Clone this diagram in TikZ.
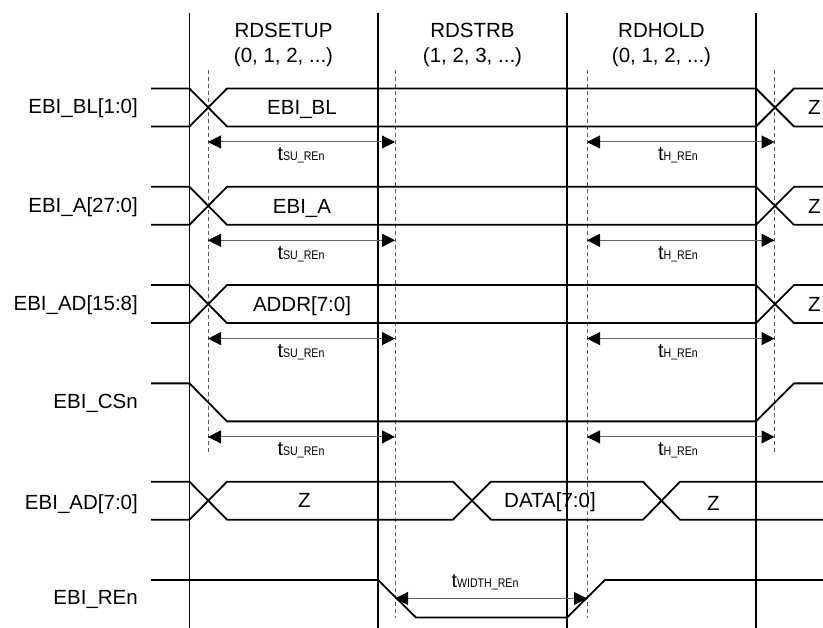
\documentclass[tikz,border=0pt]{standalone}
\usepackage{fontspec}
\setmainfont{Liberation Sans}
\newfontfamily\narrowf{Liberation Sans}[FakeStretch=0.85]
\usetikzlibrary{arrows.meta}
\newcommand{\tlab}[1]{{\fontsize{20}{21}\selectfont t}{\narrowf\fontsize{12.5}{13}\selectfont #1}}
\begin{document}
\begin{tikzpicture}[x=1pt,y=-1pt,
  sig/.style={line width=1.8pt, line join=miter},
  phase/.style={line width=1.8pt},
  guide/.style={line width=0.9pt, dash pattern=on 4pt off 3pt, draw=black!65},
  tarrow/.style={line width=1pt, draw=black!60,
    {Triangle[length=13pt,width=13pt,fill=black,color=black]}-{Triangle[length=13pt,width=13pt,fill=black,color=black]}},
  lbl/.style={font=\fontsize{20.5}{24}\selectfont, inner sep=0pt},
  sname/.style={lbl, anchor=base east},
  inlbl/.style={lbl, anchor=base},
  tl/.style={inner sep=0pt, anchor=base}
]
\useasboundingbox (0,0) rectangle (823,628);

% phase boundaries
\foreach \x [count=\i] in {189.5,378,567,756}
  \draw[phase] (\x,13) coordinate (pt\i) -- (\x,628) coordinate (pb\i);

% guide lines
\draw[guide] (208,70) coordinate (ga) -- (208,452);
\draw[guide] (395,70) coordinate (gb) -- (395,618);
\draw[guide] (587,70) coordinate (gc) -- (587,618);
\draw[guide] (774.5,70) coordinate (gd) -- (774.5,452);

% header
\node[inlbl] (h1) at (283.5,38) {RDSETUP};
\node[inlbl] (h1b) at (283.5,63) {(0, 1, 2, ...)};
\node[inlbl] (h2) at (472.5,38) {RDSTRB};
\node[inlbl] (h2b) at (472.5,63) {(1, 2, 3, ...)};
\node[inlbl] (h3) at (661.5,38) {RDHOLD};
\node[inlbl] (h3b) at (661.5,63) {(0, 1, 2, ...)};

% bus rows
\foreach \T/\nm/\inner/\id in {88.5/{EBI\_BL[1:0]}/{EBI\_BL}/bl, 186.8/{EBI\_A[27:0]}/{EBI\_A}/a, 285.1/{EBI\_AD[15:8]}/{ADDR[7:0]}/adh}{
  \pgfmathsetmacro{\B}{\T+38}
  \pgfmathsetmacro{\C}{\T+19}
  \draw[sig] (151,\T) -- (189.5,\T) -- (227,\B) -- (756,\B) -- (794,\T) -- (823,\T);
  \draw[sig] (151,\B) -- (189.5,\B) -- (227,\T) -- (756,\T) -- (794,\B) -- (823,\B);
  \node[sname] (n-\id) at (138,\C+6.5) {\nm};
  \node[inlbl] (i-\id) at (302,\C+7.5) {\inner};
  \node[inlbl] (z-\id) at (814.5,\C+7.5) {Z};
}

% timing arrows (setup/hold)
\foreach \T/\id in {88.5/bl, 186.8/a, 285.1/adh, 383.4/cs}{
  \coordinate (s1-\id) at (208,\T+53.5);
  \coordinate (s2-\id) at (395,\T+53.5);
  \coordinate (h1-\id) at (587,\T+53.5);
  \coordinate (h2-\id) at (774.5,\T+53.5);
  \draw[tarrow] (s1-\id) -- (s2-\id);
  \draw[tarrow] (h1-\id) -- (h2-\id);
  \node[tl] (ts-\id) at (301,\T+72.5) {\tlab{SU\_REn}};
  \node[tl] (th-\id) at (678,\T+72.5) {\tlab{H\_REn}};
}

% EBI_CSn
\draw[sig] (151,383.4) -- (189.5,383.4) -- (227,421.4) -- (756,421.4) -- (794,383.4) -- (823,383.4);
\node[sname] (n-cs) at (138,408.5) {EBI\_CSn};

% EBI_AD[7:0]
\draw[sig] (151,481.7) -- (189.5,481.7) -- (227,519.7) -- (453,519.7) -- (491,481.7) -- (643,481.7) -- (680,519.7) -- (823,519.7);
\draw[sig] (151,519.7) -- (189.5,519.7) -- (227,481.7) -- (453,481.7) -- (491,519.7) -- (643,519.7) -- (680,481.7) -- (823,481.7);
\node[sname] (n-adl) at (138,509.5) {EBI\_AD[7:0]};
\node[inlbl] (z1) at (304.5,508) {Z};
\node[inlbl] (d1) at (550,508) {DATA[7:0]};
\node[inlbl] (z2) at (713.5,511) {Z};

% EBI_REn
\draw[sig] (151,580) -- (378,580) -- (416,617.5) -- (567,617.5) -- (605,580) -- (823,580);
\node[sname] (n-re) at (138,605) {EBI\_REn};
\coordinate (w1) at (395,598.5);
\coordinate (w2) at (587,598.5);
\draw[tarrow] (w1) -- (w2);
\node[tl] (tw) at (485,587) {\tlab{WIDTH\_REn}};
\end{tikzpicture}
\end{document}
